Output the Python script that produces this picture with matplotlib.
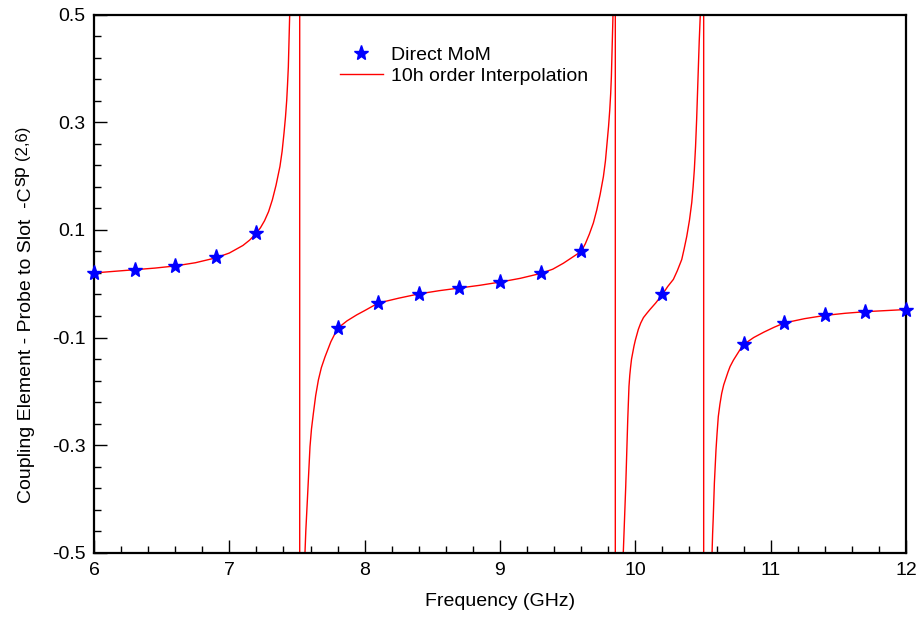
import matplotlib
matplotlib.use("Agg")
import matplotlib.pyplot as plt
from matplotlib.ticker import AutoMinorLocator

plt.rcParams['font.family'] = ['Liberation Sans', 'DejaVu Sans']

# ---- data: Direct MoM samples ----
mom_freq = [6.0, 6.3, 6.6, 6.9, 7.2, 7.8, 8.1, 8.4, 8.7, 9.0, 9.3, 9.6,
            10.2, 10.8, 11.1, 11.4, 11.7, 12.0]
mom_val = [0.020, 0.026, 0.033, 0.049, 0.094, -0.083, -0.036, -0.019, -0.008,
           0.003, 0.019, 0.060, -0.020, -0.113, -0.073, -0.059, -0.052, -0.048]

# ---- data: 10th order interpolation curve (per branch) ----
branch1_freq = [6.0, 6.15, 6.3, 6.45, 6.6, 6.75, 6.9, 7.0, 7.1, 7.15, 7.2, 7.23, 7.26,
                7.29, 7.318, 7.345, 7.374, 7.39, 7.404, 7.415, 7.424, 7.43, 7.436,
                7.441, 7.446]
branch1_val = [0.020, 0.023, 0.026, 0.029, 0.033, 0.039, 0.048, 0.057, 0.071, 0.081,
               0.094, 0.104, 0.117, 0.134, 0.156, 0.183, 0.218, 0.246, 0.280, 0.310,
               0.341, 0.370, 0.403, 0.450, 0.5]

pole1_freq = [7.52, 7.52]
pole1_val = [5.0, -5.0]

branch2_freq = [7.559, 7.565, 7.572, 7.578, 7.584, 7.59, 7.596, 7.607, 7.621, 7.638,
                7.658, 7.68, 7.707, 7.75, 7.8, 7.87, 7.941, 8.0, 8.1, 8.25, 8.4, 8.55,
                8.7, 8.85, 9.0, 9.15, 9.3, 9.39, 9.468, 9.54, 9.6, 9.63, 9.66, 9.69,
                9.715, 9.74, 9.764, 9.779, 9.791, 9.802, 9.811, 9.818, 9.823, 9.829,
                9.835]
branch2_val = [-0.5, -0.46, -0.427, -0.395, -0.365, -0.333, -0.303, -0.270, -0.241,
               -0.208, -0.179, -0.156, -0.136, -0.108, -0.083, -0.069, -0.058, -0.050,
               -0.036, -0.027, -0.019, -0.013, -0.008, -0.003, 0.003, 0.010, 0.019,
               0.027, 0.038, 0.050, 0.060, 0.074, 0.092, 0.113, 0.137, 0.166, 0.199,
               0.228, 0.261, 0.292, 0.323, 0.354, 0.385, 0.440, 0.5]

pole2_freq = [9.852, 9.852]
pole2_val = [5.0, -5.0]

branch3_freq = [9.911, 9.92, 9.929, 9.937, 9.944, 9.949, 9.953, 9.959, 9.965, 9.972,
                9.981, 9.99, 10.0, 10.022, 10.04, 10.06, 10.085, 10.108, 10.15, 10.2,
                10.24, 10.281, 10.31, 10.343, 10.36, 10.38, 10.40, 10.417, 10.427,
                10.436, 10.445, 10.453, 10.459, 10.465, 10.472, 10.480]
branch3_val = [-0.5, -0.44, -0.377, -0.31, -0.252, -0.22, -0.191, -0.170, -0.155,
               -0.140, -0.128, -0.116, -0.105, -0.085, -0.073, -0.063, -0.055, -0.048,
               -0.036, -0.020, -0.005, 0.008, 0.024, 0.045, 0.064, 0.088, 0.118,
               0.151, 0.180, 0.212, 0.255, 0.305, 0.350, 0.398, 0.450, 0.5]

pole3_freq = [10.505, 10.505]
pole3_val = [5.0, -5.0]

branch4_freq = [10.567, 10.571, 10.576, 10.584, 10.59, 10.596, 10.604, 10.613, 10.625,
                10.638, 10.653, 10.67, 10.685, 10.70, 10.725, 10.75, 10.775, 10.8,
                10.875, 10.95, 11.025, 11.1, 11.25, 11.4, 11.55, 11.7, 11.85, 12.0]
branch4_val = [-0.5, -0.465, -0.433, -0.371, -0.34, -0.309, -0.278, -0.247, -0.224,
               -0.204, -0.188, -0.175, -0.164, -0.154, -0.142, -0.132, -0.122, -0.113,
               -0.100, -0.090, -0.081, -0.073, -0.065, -0.059, -0.055, -0.052, -0.050,
               -0.048]

interp_freq = (branch1_freq + pole1_freq + branch2_freq + pole2_freq +
               branch3_freq + pole3_freq + branch4_freq)
interp_val = (branch1_val + pole1_val + branch2_val + pole2_val +
              branch3_val + pole3_val + branch4_val)

x_ticks = [6, 7, 8, 9, 10, 11, 12]
y_ticks = [-0.5, -0.3, -0.1, 0.1, 0.3, 0.5]

W, H = 920, 627
fig = plt.figure(figsize=(W / 100, H / 100), dpi=100)
ax = fig.add_axes([94 / W, 1 - 552.7 / H, (906 - 94) / W, (552.7 - 14.7) / H])

ax.plot(interp_freq, interp_val, color='#ff0000', lw=1.0,
        label='10h order Interpolation', zorder=2)
ax.plot(mom_freq, mom_val, linestyle='none', marker='*', ms=11,
        color='#0000ff', mec='#0000ff', label='Direct MoM', clip_on=False, zorder=3)

ax.set_xlim(6, 12)
ax.set_ylim(-0.5, 0.5)
ax.set_xticks(x_ticks)
ax.set_xticklabels([str(t) for t in x_ticks])
ax.set_yticks(y_ticks)
ax.set_yticklabels([f"{t:.1f}" for t in y_ticks])
ax.xaxis.set_minor_locator(AutoMinorLocator(5))
ax.yaxis.set_minor_locator(AutoMinorLocator(5))

ax.tick_params(which='both', direction='in', top=False, right=False,
               labelsize=14, width=1.0, colors='black')
ax.tick_params(which='major', length=9.5)
ax.tick_params(which='minor', length=5)
ax.tick_params(axis='x', which='major', pad=7)
ax.tick_params(axis='y', which='major', pad=6)
for s in ax.spines.values():
    s.set_linewidth(1.6)
    s.set_color('black')

ax.set_xlabel('Frequency (GHz)', fontsize=14, labelpad=10)

# legend (Direct MoM first, then interpolation)
h, l = ax.get_legend_handles_labels()
leg = ax.legend([h[1], h[0]], [l[1], l[0]], loc='upper left',
                bbox_to_anchor=((340 - 94) / 812, 1 - (46 - 14.7) / 538),
                frameon=False, fontsize=14, handlelength=2.2, handletextpad=0.4,
                labelspacing=0.2, borderpad=0, borderaxespad=0, numpoints=1)

# y label composed of pieces (main text, superscript, index)
base_x = 31.0
start_y = H - 503.0
main = fig.text(base_x / W, start_y / H,
                'Coupling Element - Probe to Slot  -C', rotation=90,
                rotation_mode='anchor', ha='left', va='baseline', fontsize=14)
fig.canvas.draw()
r = fig.canvas.get_renderer()
bb = main.get_window_extent(r)
sp = fig.text((base_x - 6) / W, (bb.y1 + 1) / H, 'sp', rotation=90,
              rotation_mode='anchor', ha='left', va='baseline', fontsize=14)
fig.canvas.draw()
bb2 = sp.get_window_extent(r)
fig.text((base_x - 4) / W, (bb2.y1 + 6) / H, '(2,6)', rotation=90,
         rotation_mode='anchor', ha='left', va='baseline', fontsize=12)

fig.savefig('out.png', dpi=100)
